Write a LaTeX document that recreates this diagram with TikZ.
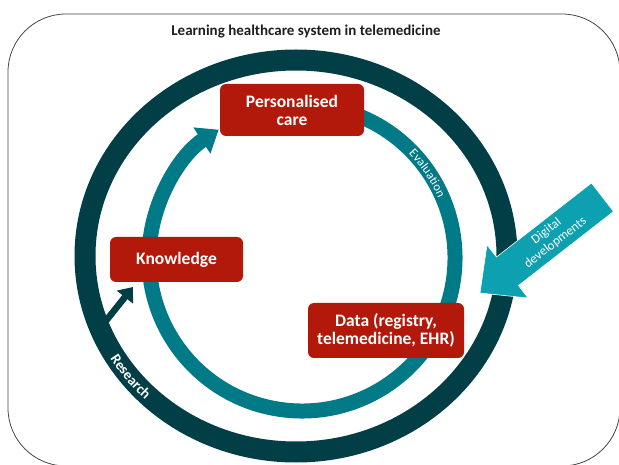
\documentclass[tikz,border=0pt]{standalone}
\usepackage{fontspec}
\setmainfont{Carlito}
\usetikzlibrary{arrows.meta,decorations.text}
\definecolor{ringdark}{RGB}{2,62,69}
\definecolor{ringteal}{RGB}{0,122,134}
\definecolor{digiteal}{RGB}{12,160,176}
\definecolor{boxred}{RGB}{178,25,10}
\definecolor{frame}{RGB}{70,70,70}
\tikzset{
  redbox/.style={draw=none, fill=boxred, rounded corners=6pt, inner sep=0pt,
    text=white, align=center, font=\bfseries\fontsize{17.5}{18}\selectfont},
  darkring/.style={draw=ringdark, line width=21pt},
  tealring/.style={draw=ringteal, line width=15pt, -{Triangle[width=30pt,length=20pt]}},
  researcharrow/.style={draw=ringdark, line width=6.5pt, -{Triangle[width=20pt,length=13pt]}},
  digiarrow/.style={fill=digiteal, draw=white, line width=0.6pt},
}
\begin{document}
\begin{tikzpicture}[x=1pt,y=1pt]
\useasboundingbox (0,0) rectangle (619,464);
\fill[white] (0,0) rectangle (619,464);
% outer frame
\draw[frame, line width=0.8pt, rounded corners=58pt] (8,450) rectangle (620,-2);
% title
\node[font=\bfseries\fontsize{15}{18}\selectfont, text={rgb,255:red,30;green,30;blue,30}] (title) at (306,432) {Learning healthcare system in telemedicine};
% dark outer ring
\coordinate (cdark) at (296,208);
\draw[darkring] (cdark) ellipse [x radius=211, y radius=196];
% teal inner ring with arrow
\coordinate (cteal) at (302,206);
\draw[tealring] (cteal) ++(80:153) arc[start angle=80, end angle=-237, radius=153];
% research text
\path[decorate, decoration={text along path, text align=center,
   text={|\bfseries\fontsize{14.5}{16}\selectfont\color{white}|Research}}]
   (cdark) ++(200:216 and 201) arc[start angle=200, end angle=236, x radius=216, y radius=201];
% evaluation text
\path[decorate, decoration={text along path, text align=center,
   text={|\fontsize{12.5}{14}\selectfont\color{white}|Evaluation}}]
   (cteal) ++(52:149) arc[start angle=52, end angle=16, radius=149];
% digital developments arrow
\path[digiarrow] (480,171) coordinate (dtip) -- (487,219) -- (496.5,207) -- (591.5,281) -- (613.5,252.5) -- (518.5,178.5) -- (528,166) -- cycle;
\node[rotate=38, text=white, align=center, font=\fontsize{13}{14.5}\selectfont, inner sep=0pt] (digital) at (551,227) {Digital\\developments};
% boxes
\node[redbox, minimum width=144pt, minimum height=52pt] (care) at (292,354) {Personalised\\care};
\node[redbox, minimum width=133pt, minimum height=45pt] (knowledge) at (176.5,204.5) {Knowledge};
\node[redbox, minimum width=156pt, minimum height=55pt] (data) at (386,133.5) {Data (registry,\\telemedicine, EHR)};
% research arrow
\coordinate (rs) at (101,137);
\coordinate (rt) at (133,177);
\draw[researcharrow] (rs) -- (rt);
\end{tikzpicture}
\end{document}
